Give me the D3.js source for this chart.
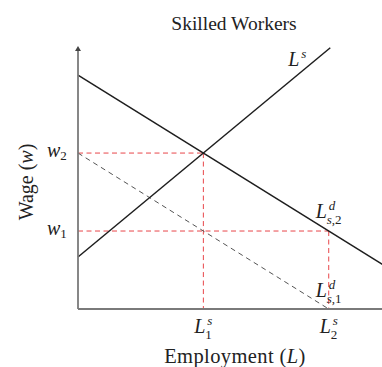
<!DOCTYPE html>
<html>
<head>
<meta charset="utf-8">
<script src="https://cdn.jsdelivr.net/npm/d3@7"></script>
<style>
  body { margin: 0; background: #fff; }
  svg text { font-family: "Liberation Serif", "DejaVu Serif", serif; fill: #222; }
  .math { font-style: italic; }
</style>
</head>
<body>
<div id="chart-area"></div>
<script>
// lines, in (employment, wage) units
const supply = [[0, 2], [8.05, 10.05]];
const demand2 = [[0, 9], [9.75, 1.69]];
const demand1 = [[0, 6], [8, 0]];
const guides = [
  [[0, 6], [4, 6]],
  [[4, 6], [4, 0]],
  [[0, 3], [8, 3]],
  [[8, 3], [8, 0]]
];
const xTicks = [4, 8];
const xTickSubs = ["1", "2"];
const yTicks = [6, 3];
const yTickSubs = ["2", "1"];

let margin = { top: 47, right: 0, bottom: 58, left: 78 },
  width = 382 - margin.left - margin.right,
  height = 367 - margin.top - margin.bottom;

let svg = d3
  .select("#chart-area")
  .append("svg")
  .attr("width", 382)
  .attr("height", 367);

let g = svg.append("g")
  .attr("transform", "translate(" + margin.left + "," + margin.top + ")");

let x = d3.scaleLinear().domain([0, 9.7]).range([0, width]);
let y = d3.scaleLinear().domain([0, 10.08]).range([height, 0]);

let line = d3.line()
  .x(function(d) { return x(d[0]); })
  .y(function(d) { return y(d[1]); });

// red guide lines
guides.forEach(function(seg) {
  g.append("path")
    .attr("d", line(seg))
    .attr("fill", "none")
    .attr("stroke", "#e8464a")
    .attr("stroke-width", 1)
    .attr("stroke-dasharray", "5,3.5");
});

// old demand (dashed)
g.append("path")
  .attr("d", line(demand1))
  .attr("fill", "none")
  .attr("stroke", "#555")
  .attr("stroke-width", 1)
  .attr("stroke-dasharray", "5,4");

g.append("path")
  .attr("d", line(demand2))
  .attr("fill", "none")
  .attr("stroke", "#1e1e1e")
  .attr("stroke-width", 1.5);

g.append("path")
  .attr("d", line(supply))
  .attr("fill", "none")
  .attr("stroke", "#1e1e1e")
  .attr("stroke-width", 1.5);

// axes
g.append("line")
  .attr("x1", 0).attr("x2", 0)
  .attr("y1", height).attr("y2", 3)
  .attr("stroke", "#7a7a7a").attr("stroke-width", 1.8);
g.append("path")
  .attr("d", "M-3,4 L0,-1 L3,4 Z")
  .attr("fill", "#444");
g.append("line")
  .attr("x1", 0).attr("x2", width)
  .attr("y1", height).attr("y2", height)
  .attr("stroke", "#7a7a7a").attr("stroke-width", 1.8);

// math label: L with superscript / subscript at given offsets
function mathLabel(px, py, sup, sub) {
  let lg = g.append("g").attr("transform", "translate(" + px + "," + py + ")");
  lg.append("text").attr("class", "math").style("font-size", "20px").text("L");
  if (sup) {
    lg.append("text").attr("class", "math")
      .attr("x", 13).attr("y", -8)
      .style("font-size", "13px").text(sup);
  }
  if (sub) {
    let st = lg.append("text")
      .attr("x", 11).attr("y", 6)
      .style("font-size", "13px");
    sub.forEach(function(s) {
      st.append("tspan").attr("class", s.it ? "math" : null).text(s.t);
    });
  }
}

xTicks.forEach(function(v, i) {
  mathLabel(x(v) - 9, height + 24, "s", [{ t: xTickSubs[i] }]);
});

yTicks.forEach(function(v, i) {
  let t = g.append("text")
    .attr("class", "math")
    .attr("x", -31)
    .attr("y", y(v) + 4)
    .style("font-size", "20px");
  t.append("tspan").text("w");
  t.append("tspan").attr("dy", 3).style("font-size", "13px")
    .style("font-style", "normal").text(yTickSubs[i]);
});

// curve labels
mathLabel(x(8.05) - 42, y(10.05) + 18, "s");
mathLabel(x(8) - 13, y(3.49), "d", [{ t: "s", it: true }, { t: ",2" }]);
mathLabel(x(8) - 13, y(0.45), "d", [{ t: "s", it: true }, { t: ",1" }]);

// titles
svg.append("text")
  .attr("x", 234)
  .attr("y", 30)
  .attr("text-anchor", "middle")
  .style("font-size", "19.5px")
  .text("Skilled Workers");

let xt = svg.append("text")
  .attr("x", 235)
  .attr("y", 363)
  .attr("text-anchor", "middle")
  .style("font-size", "20.5px")
  .style("letter-spacing", "0.4px");
xt.append("tspan").text("Employment (");
xt.append("tspan").attr("class", "math").text("L");
xt.append("tspan").text(")");

let yt = svg.append("text")
  .attr("transform", "translate(33,182) rotate(-90)")
  .attr("text-anchor", "middle")
  .style("font-size", "20px");
yt.append("tspan").text("Wage (");
yt.append("tspan").attr("class", "math").text("w");
yt.append("tspan").text(")");
</script>
</body>
</html>
